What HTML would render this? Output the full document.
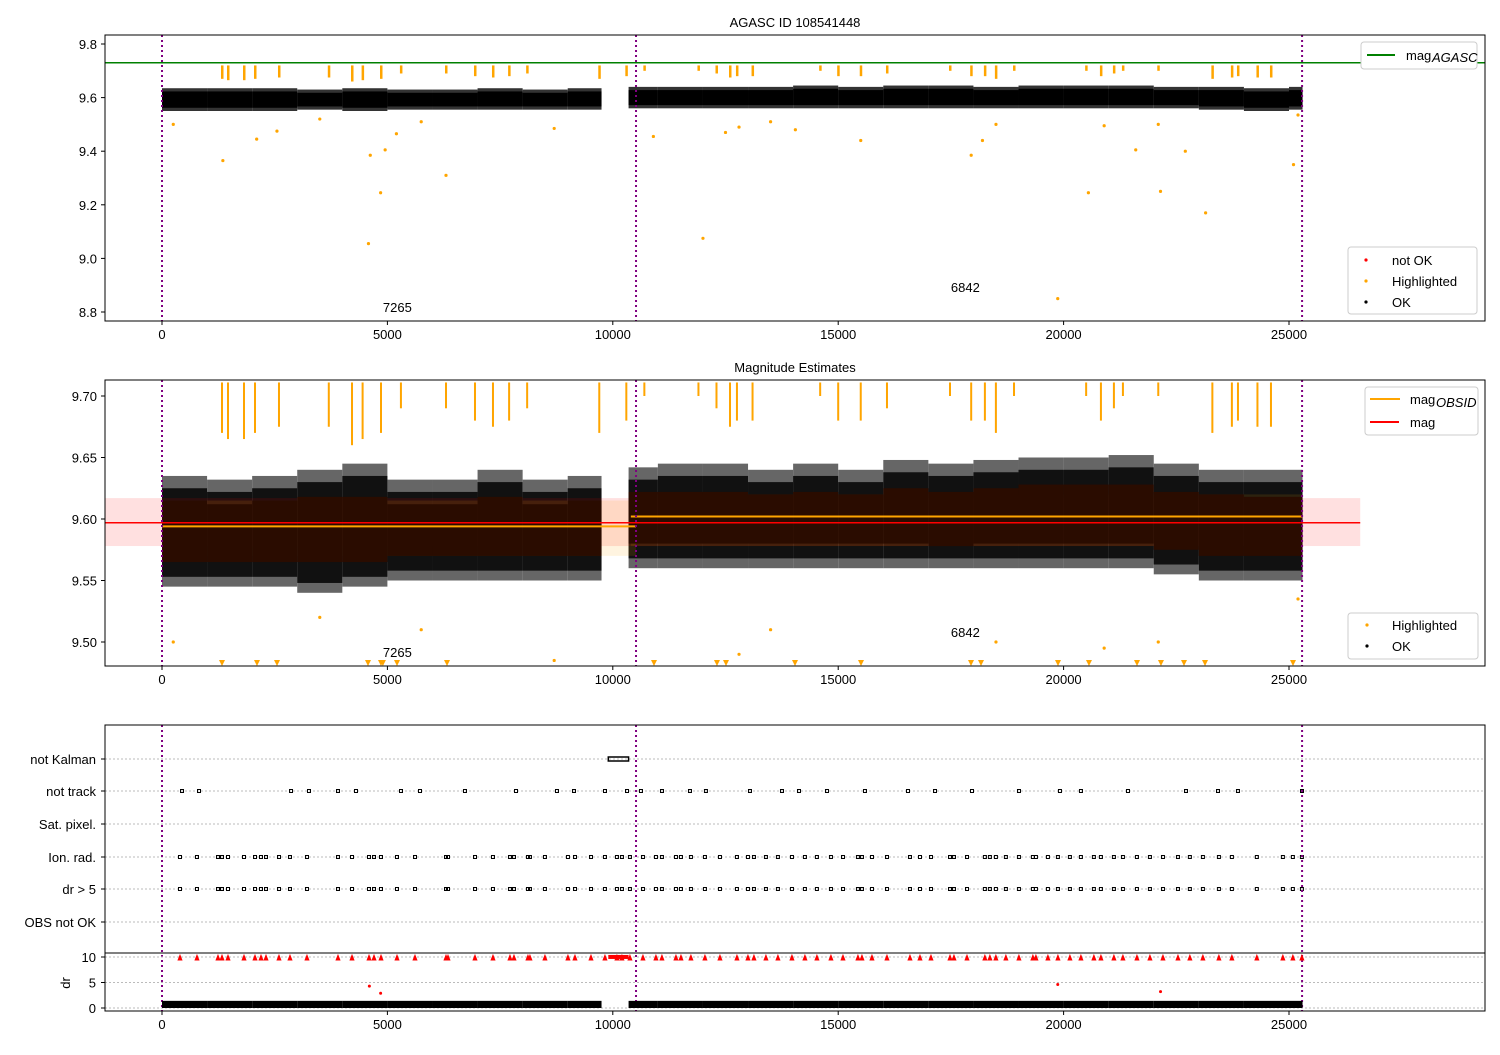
<!DOCTYPE html>
<html><head><meta charset="utf-8"><style>
body{margin:0;background:#fff}
text{font-family:"Liberation Sans","DejaVu Sans",sans-serif;font-size:13px;fill:#000}
</style></head><body>
<svg id="c" width="1500" height="1050" xmlns="http://www.w3.org/2000/svg"></svg>
<script>
// ---- data ----
const binStarts=[0,1000,2000,3000,4000,5000,6000,7000,8000,9000,10350,11000,12000,13000,14000,15000,16000,17000,18000,19000,20000,21000,22000,23000,24000,25000];
const binEnds=[1000,2000,3000,4000,5000,6000,7000,8000,9000,9750,11000,12000,13000,14000,15000,16000,17000,18000,19000,20000,21000,22000,23000,24000,25000,25300];
const magLo1=[9.55,9.55,9.55,9.555,9.55,9.555,9.555,9.555,9.555,9.555,9.56,9.56,9.56,9.56,9.56,9.56,9.56,9.56,9.56,9.56,9.56,9.56,9.56,9.555,9.55,9.555];
const magHi1=[9.635,9.635,9.635,9.63,9.635,9.63,9.63,9.635,9.63,9.635,9.64,9.64,9.64,9.64,9.645,9.64,9.645,9.645,9.64,9.645,9.645,9.645,9.64,9.64,9.635,9.64];
const magLo2=[9.545,9.545,9.545,9.54,9.545,9.55,9.55,9.55,9.55,9.55,9.56,9.56,9.56,9.56,9.56,9.56,9.56,9.56,9.56,9.56,9.56,9.56,9.555,9.55,9.55,9.55];
const magHi2=[9.635,9.632,9.635,9.64,9.645,9.632,9.632,9.64,9.632,9.635,9.642,9.645,9.645,9.64,9.645,9.64,9.648,9.645,9.648,9.65,9.65,9.652,9.645,9.64,9.64,9.64];
const coreLo=[9.565,9.565,9.565,9.565,9.565,9.57,9.57,9.57,9.57,9.57,9.58,9.58,9.58,9.58,9.58,9.58,9.58,9.578,9.58,9.58,9.58,9.58,9.575,9.57,9.57,9.57];
const coreHi=[9.615,9.612,9.615,9.618,9.618,9.612,9.612,9.618,9.612,9.615,9.622,9.622,9.622,9.62,9.622,9.62,9.625,9.622,9.625,9.628,9.628,9.628,9.622,9.62,9.618,9.618];
const hlTimes=[1331,1464,1819,2063,2595,3700,4215,4450,4858,5300,6300,6943,7342,7700,8100,9700,10300,10700,11900,12300,12600,12754,13100,14600,15000,15500,16082,17480,17950,18254,18498,18900,20500,20828,21116,21316,22100,23300,23733,23868,24300,24600];
const hlLo=[9.67,9.665,9.665,9.67,9.675,9.675,9.66,9.665,9.67,9.69,9.69,9.68,9.675,9.68,9.69,9.67,9.68,9.7,9.7,9.69,9.675,9.68,9.68,9.7,9.68,9.68,9.69,9.7,9.68,9.68,9.67,9.7,9.7,9.68,9.69,9.7,9.7,9.67,9.675,9.68,9.675,9.675];
const outT=[250,1350,2100,2550,3500,4580,4620,4850,4950,5200,5750,6300,8700,10900,12000,12500,12800,13500,14050,15500,17950,18200,18500,19870,20550,20900,21600,22150,22100,22700,23150,25100,25200];
const outM=[9.50,9.365,9.445,9.475,9.52,9.055,9.385,9.245,9.405,9.465,9.51,9.31,9.485,9.455,9.075,9.47,9.49,9.51,9.48,9.44,9.385,9.44,9.50,8.85,9.245,9.495,9.405,9.25,9.50,9.40,9.17,9.35,9.535];
const lowTriT=[1331,2107,2551,4570,4858,4900,5213,6322,10914,12311,12511,14042,15506,17946,18168,19876,20563,21628,22160,22671,23137,25089];
const ionTimes=[399,776,1242,1331,1464,1819,2063,2196,2307,2595,2839,3216,3904,4215,4592,4703,4858,5213,5612,6300,6344,6943,7342,7719,7808,8118,8162,8495,9005,9161,9516,9826,10092,10203,10380,10669,10957,11090,11401,11512,11733,12044,12377,12754,12998,13131,13397,13663,13974,14262,14528,14839,15106,15438,15527,15749,16082,16592,16814,17058,17480,17568,17857,18254,18365,18498,18720,19009,19319,19386,19652,19874,20140,20384,20672,20828,21116,21316,21627,21915,22204,22537,22801,23090,23445,23733,24287,24864,25086,25286];
const trackTimes=[444,821,2862,3261,3904,4303,5302,5723,6721,7853,8762,9139,9827,10315,10625,11091,11712,12066,13043,13753,14130,14751,15594,16548,17147,17968,19010,19919,20385,21428,22715,23425,23868,25288];
const kalmanStart=9900, kalmanEnd=10350;
const obsBoundaries=[0,10515,25290];
const obsIds=["7265","6842"];
const magAgasc=9.73, magAll=9.597, magAllLo=9.578, magAllHi=9.617;
const obsMag=[9.594,9.602], obsStart=[0,10400], obsEnd=[10515,25290], obsLo=[9.57,9.578], obsHi=[9.615,9.62];
const xTicks=[0,5000,10000,15000,20000,25000];
const y1Ticks=[9.8,9.6,9.4,9.2,9.0,8.8];
const y2Ticks=[9.70,9.65,9.60,9.55,9.50];
const flagRows=["not Kalman","not track","Sat. pixel.","Ion. rad.","dr > 5","OBS not OK"];
const drTicks=[10,5,0];

// ---- scales ----
const X=t=>162+t*0.04508;
const Y1=m=>44+(9.8-m)*268;
const Y2=m=>396+(9.70-m)*1230;
const D=d=>1008-d*5.1;
const rowY=[759,791,824,857,889,922];
const S=document.getElementById('c');
function el(tag,a,p){const e=document.createElementNS('http://www.w3.org/2000/svg',tag);for(const k in a)e.setAttribute(k,a[k]);(p||S).appendChild(e);return e;}
function txt(x,y,s,a,p){const e=el('text',Object.assign({x,y},a||{}),p);e.textContent=s;return e;}

function axes(name){
  const g=el('g',{});
  
  
  return g;
}
function frame(g,top,bot){el('rect',{x:105,y:top,width:1380,height:bot-top,fill:'none',stroke:'#000','stroke-width':1},g);}
function xAxis(g,bot){xTicks.forEach(t=>{el('line',{x1:X(t),x2:X(t),y1:bot,y2:bot+4,stroke:'#000'},g);txt(X(t),bot+18,String(t),{'text-anchor':'middle'},g);});}
function vlines(g,top,bot){obsBoundaries.forEach(t=>el('line',{x1:X(t),x2:X(t),y1:top,y2:bot,stroke:'#800080','stroke-width':2,'stroke-dasharray':'2,3'},g));}

// Panel 1
const g1=axes('magnitude-panel');
txt(795,27,'AGASC ID 108541448',{'text-anchor':'middle','font-size':'15px'},g1);
el('line',{x1:105,x2:1485,y1:Y1(magAgasc),y2:Y1(magAgasc),stroke:'#008000','stroke-width':1.5},g1);
for(let i=0;i<binStarts.length;i++){
  const r=el('rect',{x:X(binStarts[i]),y:Y1(magHi1[i]),width:X(binEnds[i])-X(binStarts[i]),height:Y1(magLo1[i])-Y1(magHi1[i]),fill:'#333'},g1);
  
  
  el('rect',{x:X(binStarts[i]),y:Y1(magHi1[i]-0.012),width:X(binEnds[i])-X(binStarts[i]),height:Y1(magLo1[i]+0.012)-Y1(magHi1[i]-0.012),fill:'#000'},g1);
}
for(let i=0;i<hlTimes.length;i++){
  el('rect',{x:X(hlTimes[i])-1,y:Y1(9.72),width:2.5,height:Y1(hlLo[i])-Y1(9.72),fill:'#ffa500'},g1);
}
for(let i=0;i<outT.length;i++){el('circle',{cx:X(outT[i]),cy:Y1(outM[i]),r:1.6,fill:'#ffa500'},g1);}
vlines(g1,35,321);
txt(X(4900),312,obsIds[0],{},g1);txt(X(17500),292,obsIds[1],{},g1);
y1Ticks.forEach(v=>{el('line',{x1:101,x2:105,y1:Y1(v),y2:Y1(v),stroke:'#000'},g1);txt(97,Y1(v)+5,v.toFixed(1),{'text-anchor':'end'},g1);});
frame(g1,35,321);xAxis(g1,321);
const lg1=el('g',{},g1);
el('rect',{x:1361,y:42,width:116,height:27,rx:3,fill:'#fff',stroke:'#ccc'},lg1);
el('line',{x1:1367,x2:1395,y1:55,y2:55,stroke:'#008000','stroke-width':2},lg1);
txt(1406,60,'mag',{},lg1);txt(1432,62,'AGASC',{'font-size':'9px','font-style':'italic'},lg1);
const lg2=el('g',{},g1);
el('rect',{x:1348,y:247,width:129,height:67,rx:3,fill:'#fff',stroke:'#ccc'},lg2);
[['not OK','#f00',260],['Highlighted','#ffa500',281],['OK','#000',302]].forEach(a=>{el('circle',{cx:1366,cy:a[2],r:1.6,fill:a[1]},lg2);txt(1392,a[2]+5,a[0],{},lg2);});

// Panel 2
const g2=axes('estimates-panel');
txt(795,372,'Magnitude Estimates',{'text-anchor':'middle','font-size':'15px'},g2);
for(let i=0;i<binStarts.length;i++){
  el('rect',{x:X(binStarts[i]),y:Y2(magHi2[i]),width:X(binEnds[i])-X(binStarts[i]),height:Y2(magLo2[i])-Y2(magHi2[i]),fill:'#666'},g2);
  el('rect',{x:X(binStarts[i]),y:Y2(magHi2[i]-0.01),width:X(binEnds[i])-X(binStarts[i]),height:Y2(magLo2[i]+0.008)-Y2(magHi2[i]-0.01),fill:'#111'},g2);
}
el('rect',{x:105,y:Y2(magAllHi),width:X(26580)-105,height:Y2(magAllLo)-Y2(magAllHi),fill:'rgba(255,0,0,0.12)'},g2);
for(let i=0;i<2;i++){el('rect',{x:X(obsStart[i]),y:Y2(obsHi[i]),width:X(obsEnd[i])-X(obsStart[i]),height:Y2(obsLo[i])-Y2(obsHi[i]),fill:'rgba(255,165,0,0.12)'},g2);}
for(let i=0;i<binStarts.length;i++){
  el('rect',{x:X(binStarts[i]),y:Y2(coreHi[i]),width:X(binEnds[i])-X(binStarts[i]),height:Y2(coreLo[i])-Y2(coreHi[i]),fill:'#2a0c00'},g2);
}
for(let i=0;i<2;i++){el('line',{x1:X(obsStart[i]),x2:X(obsEnd[i]),y1:Y2(obsMag[i]),y2:Y2(obsMag[i]),stroke:'#ffa500','stroke-width':2},g2);}
el('line',{x1:105,x2:X(26580),y1:Y2(magAll),y2:Y2(magAll),stroke:'#f00','stroke-width':1.5},g2);
for(let i=0;i<hlTimes.length;i++){
  el('rect',{x:X(hlTimes[i])-1,y:Y2(9.711),width:2,height:Y2(hlLo[i])-Y2(9.711),fill:'#ffa500'},g2);
}
for(let i=0;i<outT.length;i++){if(outM[i]>9.48)el('circle',{cx:X(outT[i]),cy:Y2(outM[i]),r:1.6,fill:'#ffa500'},g2);}
lowTriT.forEach(t=>el('polygon',{points:`${X(t)-3},660 ${X(t)+3},660 ${X(t)},666`,fill:'#ffa500'},g2));
vlines(g2,380,666);
txt(X(4900),657,obsIds[0],{},g2);txt(X(17500),637,obsIds[1],{},g2);
y2Ticks.forEach(v=>{el('line',{x1:101,x2:105,y1:Y2(v),y2:Y2(v),stroke:'#000'},g2);txt(97,Y2(v)+5,v.toFixed(2),{'text-anchor':'end'},g2);});
frame(g2,380,666);xAxis(g2,666);
const lg3=el('g',{},g2);
el('rect',{x:1365,y:387,width:113,height:48,rx:3,fill:'#fff',stroke:'#ccc'},lg3);
el('line',{x1:1370,x2:1400,y1:399,y2:399,stroke:'#ffa500','stroke-width':2},lg3);txt(1410,404,'mag',{},lg3);txt(1436,407,'OBSID',{'font-size':'9px','font-style':'italic'},lg3);
el('line',{x1:1370,x2:1399,y1:422,y2:422,stroke:'#f00','stroke-width':2},lg3);txt(1410,427,'mag',{},lg3);
const lg4=el('g',{},g2);
el('rect',{x:1348,y:613,width:130,height:46,rx:3,fill:'#fff',stroke:'#ccc'},lg4);
el('circle',{cx:1367,cy:625,r:1.6,fill:'#ffa500'},lg4);txt(1392,630,'Highlighted',{},lg4);
el('circle',{cx:1367,cy:646,r:1.6,fill:'#000'},lg4);txt(1392,651,'OK',{},lg4);

// Panel 3 flags
const g3=axes('flags-panel');
rowY.forEach((y,i)=>{el('line',{x1:105,x2:1485,y1:y,y2:y,stroke:'#bbb','stroke-dasharray':'2,2'},g3);el('line',{x1:101,x2:105,y1:y,y2:y,stroke:'#000'},g3);txt(96,y+5,flagRows[i],{'text-anchor':'end'},g3);});
el('rect',{x:X(kalmanStart),y:757,width:X(kalmanEnd)-X(kalmanStart),height:4,fill:'none',stroke:'#000','stroke-width':1.5},g3);
trackTimes.forEach(t=>el('rect',{x:X(t)-1.5,y:789.5,width:3,height:3,fill:'none',stroke:'#000'},g3));
ionTimes.forEach(t=>{el('rect',{x:X(t)-1.5,y:855.5,width:3,height:3,fill:'none',stroke:'#000'},g3);el('rect',{x:X(t)-1.5,y:887.5,width:3,height:3,fill:'none',stroke:'#000'},g3);});
vlines(g3,725,1011);
el('rect',{x:105,y:725,width:1380,height:228,fill:'none',stroke:'#000'},g3);
drTicks.forEach(v=>{el('line',{x1:105,x2:1485,y1:D(v),y2:D(v),stroke:'#bbb','stroke-dasharray':'2,2'},g3);el('line',{x1:101,x2:105,y1:D(v),y2:D(v),stroke:'#000'},g3);txt(96,D(v)+5,String(v),{'text-anchor':'end'},g3);});
for(let i=0;i<binStarts.length;i++){el('rect',{x:X(binStarts[i]),y:D(1.4),width:X(binEnds[i])-X(binStarts[i]),height:D(0)-D(1.4),fill:'#000'},g3);}
ionTimes.forEach(t=>el('polygon',{points:`${X(t)-2},${D(9.4)} ${X(t)+2},${D(9.4)} ${X(t)},${D(10.4)}`,fill:'#f00',stroke:'#f00','stroke-width':0.8},g3));
el('rect',{x:X(kalmanStart),y:D(10.4),width:X(kalmanEnd)-X(kalmanStart),height:4,fill:'#f00'},g3);
[[4600,4.3],[4850,2.9],[19870,4.6],[22150,3.2]].forEach(p=>el('circle',{cx:X(p[0]),cy:D(p[1]),r:1.5,fill:'#f00'},g3));
txt(0,0,'dr',{transform:`translate(70,983) rotate(-90)`,'text-anchor':'middle'},g3);
el('rect',{x:105,y:953,width:1380,height:58,fill:'none',stroke:'#000'},g3);
xAxis(g3,1011);
</script>
</body></html>
